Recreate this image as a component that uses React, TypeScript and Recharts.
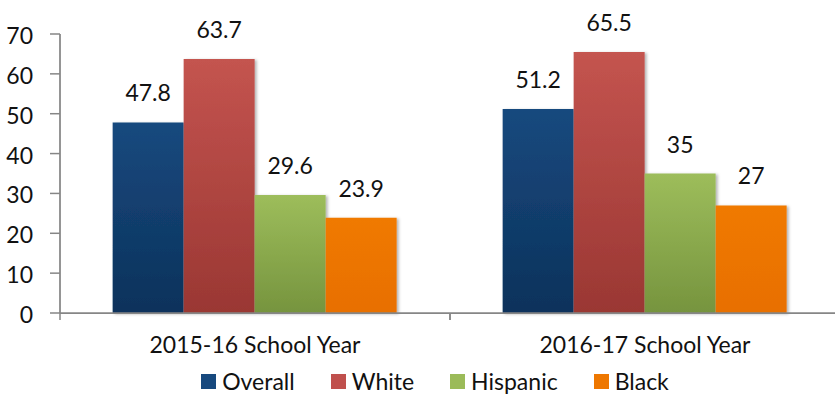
import { BarChart, Bar, XAxis, YAxis, LabelList, Legend } from 'recharts';

const categories = ['2015-16 School Year', '2016-17 School Year'];
const overall = [47.8, 51.2];
const white = [63.7, 65.5];
const hispanic = [29.6, 35];
const black = [23.9, 27];
const yTicks = [0, 10, 20, 30, 40, 50, 60, 70];

const SERIES = [
  { key: 'overall', name: 'Overall', fill: 'url(#gOverall)', swatch: '#17497e' },
  { key: 'white', name: 'White', fill: 'url(#gWhite)', swatch: '#c0504d' },
  { key: 'hispanic', name: 'Hispanic', fill: 'url(#gHispanic)', swatch: '#9bbb59' },
  { key: 'black', name: 'Black', fill: 'url(#gBlack)', swatch: '#ee7700' },
];

const data = categories.map((name, i) => ({
  name,
  overall: overall[i],
  white: white[i],
  hispanic: hispanic[i],
  black: black[i],
}));

const FONT = 'Lato, "Open Sans", sans-serif';
const AXIS = '#868686';
const TEXT = '#111';

// Excel-style ticks: marks sit on the band edges, not the centres
function CategoryTick(props: any) {
  const { x, y, payload } = props;
  const half = payload.offset || 0;
  return (
    <g>
      <line x1={x - half} y1={y} x2={x - half} y2={y + 7} stroke={AXIS} strokeWidth={1.5} />
      <line x1={x + half} y1={y} x2={x + half} y2={y + 7} stroke={AXIS} strokeWidth={1.5} />
      <text x={x} y={y} dy={40} textAnchor="middle" fill={TEXT} fontSize={23} fontFamily={FONT}>
        {payload.value}
      </text>
    </g>
  );
}

function ValueTick(props: any) {
  const { x, y, payload } = props;
  return (
    <text x={x} y={y} dy={10} textAnchor="end" fill={TEXT} fontSize={23} fontFamily={FONT}>
      {payload.value}
    </text>
  );
}

function LegendContent() {
  return (
    <div
      style={{
        display: 'flex',
        justifyContent: 'center',
        alignItems: 'flex-start',
        height: 24,
        paddingLeft: 30,
        fontFamily: FONT,
        fontSize: 23,
        color: TEXT,
      }}
    >
      {SERIES.map((s) => (
        <div key={s.key} style={{ display: 'flex', alignItems: 'flex-start', margin: '0 18px' }}>
          <span style={{ width: 15, height: 15, background: s.swatch, marginTop: 2, marginRight: 6, display: 'inline-block' }} />
          <span style={{ lineHeight: '20px', marginTop: -1 }}>{s.name}</span>
        </div>
      ))}
    </div>
  );
}

export default function App() {
  return (
    <div style={{ position: 'absolute', left: 0, top: 0, width: 835, height: 396, overflow: 'hidden', background: '#fff' }}>
      <BarChart
        width={840}
        height={396}
        data={data}
        margin={{ top: 34, right: 0, left: 0, bottom: 0 }}
        barCategoryGap="13.5%"
        barGap={0}
      >
        <defs>
          <linearGradient id="gOverall" x1="0" y1="0" x2="0" y2="1">
            <stop offset="0%" stopColor="#17497e" />
            <stop offset="100%" stopColor="#0c325b" />
          </linearGradient>
          <linearGradient id="gWhite" x1="0" y1="0" x2="0" y2="1">
            <stop offset="0%" stopColor="#c4544f" />
            <stop offset="100%" stopColor="#9a3733" />
          </linearGradient>
          <linearGradient id="gHispanic" x1="0" y1="0" x2="0" y2="1">
            <stop offset="0%" stopColor="#9dbd5b" />
            <stop offset="100%" stopColor="#76943e" />
          </linearGradient>
          <linearGradient id="gBlack" x1="0" y1="0" x2="0" y2="1">
            <stop offset="0%" stopColor="#f07a00" />
            <stop offset="100%" stopColor="#e86f00" />
          </linearGradient>
          <filter id="barShadow" x="-10%" y="-10%" width="130%" height="120%">
            <feDropShadow dx="2" dy="1" stdDeviation="1.5" floodColor="#000" floodOpacity="0.3" />
          </filter>
        </defs>
        <XAxis
          dataKey="name"
          height={59}
          axisLine={{ stroke: AXIS, strokeWidth: 1.75 }}
          tickLine={false}
          tickSize={0}
          tickMargin={0}
          tick={<CategoryTick />}
          interval={0}
        />
        <YAxis
          width={60}
          domain={[0, 70]}
          ticks={yTicks}
          interval={0}
          axisLine={{ stroke: AXIS, strokeWidth: 1.75 }}
          tickLine={{ stroke: AXIS, strokeWidth: 1.5 }}
          tickSize={10}
          tickMargin={17}
          tick={<ValueTick />}
        />
        <Legend verticalAlign="bottom" height={24} content={<LegendContent />} />
        {SERIES.map((s) => (
          <Bar
            key={s.key}
            dataKey={s.key}
            name={s.name}
            fill={s.fill}
            filter="url(#barShadow)"
            isAnimationActive={false}
          >
            <LabelList
              dataKey={s.key}
              position="top"
              offset={21}
              fill={TEXT}
              fontSize={23}
              fontFamily={FONT}
            />
          </Bar>
        ))}
      </BarChart>
    </div>
  );
}
